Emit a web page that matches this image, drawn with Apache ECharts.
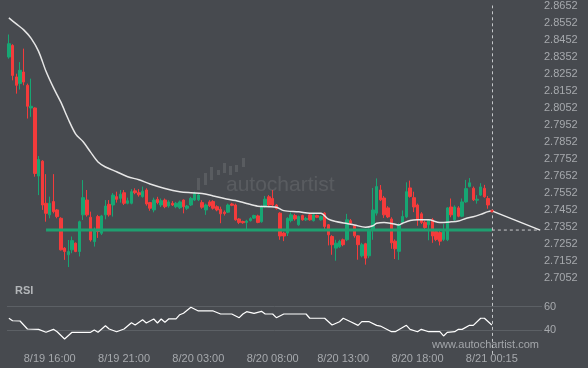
<!DOCTYPE html>
<html><head><meta charset="utf-8">
<script src="https://cdn.jsdelivr.net/npm/echarts@6/dist/echarts.min.js"></script>
<style>html,body{margin:0;padding:0;background:#474a4f}#c{width:588px;height:368px}</style>
</head><body><div id="c"></div>
<script>
// ---- candle data (15-min bars) ----
const candleOpen = [2.8350,2.8418,2.8233,2.8194,2.8262,2.8184,2.8051,2.8051,2.7652,2.7739,
2.7492,2.7424,2.7502,2.7453,2.7404,2.7229,2.7190,2.7219,2.7258,2.7209,
2.7424,2.7511,2.7410,2.7267,2.7414,2.7316,2.7424,2.7486,2.7482,2.7531,
2.7521,2.7554,2.7492,2.7492,2.7565,2.7554,2.7531,2.7570,2.7496,2.7453,
2.7515,2.7482,2.7511,2.7476,2.7492,2.7472,2.7466,2.7511,2.7463,2.7482,
2.7511,2.7512,2.7496,2.7453,2.7500,2.7502,2.7472,2.7457,2.7440,2.7440,
2.7488,2.7482,2.7400,2.7385,2.7380,2.7390,2.7405,2.7418,2.7384,2.7470,
2.7530,2.7520,2.7482,2.7434,2.7317,2.7317,2.7390,2.7420,2.7366,2.7420,
2.7395,2.7424,2.7390,2.7420,2.7395,2.7434,2.7366,2.7297,2.7229,2.7237,
2.7278,2.7278,2.7390,2.7360,2.7301,2.7184,2.7255,2.7184,2.7336,2.7434,
2.7570,2.7523,2.7465,2.7400,2.7270,2.7210,2.7380,2.7412,2.7582,2.7525,
2.7482,2.7430,2.7380,2.7366,2.7395,2.7326,2.7320,2.7280,2.7278,2.7470,
2.7395,2.7465,2.7416,2.7500,2.7590,2.7580,2.7510,2.7540,2.7580,2.7520,
2.7450];
const candleClose = [2.8428,2.8242,2.8184,2.8272,2.8203,2.8061,2.8061,2.7667,2.7749,2.7482,
2.7433,2.7492,2.7443,2.7414,2.7219,2.7209,2.7209,2.7273,2.7209,2.7384,
2.7525,2.7424,2.7277,2.7340,2.7326,2.7418,2.7476,2.7424,2.7540,2.7515,
2.7545,2.7492,2.7507,2.7560,2.7554,2.7542,2.7563,2.7488,2.7463,2.7511,
2.7496,2.7507,2.7472,2.7500,2.7482,2.7492,2.7500,2.7472,2.7476,2.7521,
2.7550,2.7541,2.7469,2.7482,2.7478,2.7463,2.7453,2.7430,2.7432,2.7482,
2.7480,2.7395,2.7380,2.7378,2.7388,2.7402,2.7420,2.7380,2.7472,2.7516,
2.7482,2.7482,2.7462,2.7300,2.7300,2.7404,2.7424,2.7400,2.7414,2.7395,
2.7403,2.7395,2.7424,2.7410,2.7414,2.7356,2.7307,2.7249,2.7258,2.7268,
2.7249,2.7395,2.7375,2.7301,2.7249,2.7249,2.7170,2.7336,2.7453,2.7590,
2.7512,2.7424,2.7412,2.7260,2.7225,2.7366,2.7415,2.7560,2.7532,2.7470,
2.7395,2.7380,2.7350,2.7395,2.7300,2.7280,2.7270,2.7326,2.7465,2.7424,
2.7470,2.7416,2.7500,2.7578,2.7612,2.7512,2.7516,2.7588,2.7530,2.7482,
2.7445];
const candleLow = [2.8340,2.8213,2.8135,2.8159,2.8184,2.7989,2.7999,2.7648,2.7540,2.7453,
2.7384,2.7404,2.7433,2.7404,2.7215,2.7160,2.7118,2.7199,2.7205,2.7180,
2.7394,2.7414,2.7267,2.7238,2.7289,2.7306,2.7398,2.7414,2.7414,2.7496,
2.7496,2.7482,2.7486,2.7486,2.7545,2.7531,2.7525,2.7478,2.7448,2.7439,
2.7486,2.7470,2.7463,2.7466,2.7476,2.7463,2.7458,2.7433,2.7453,2.7476,
2.7505,2.7505,2.7460,2.7424,2.7470,2.7455,2.7445,2.7375,2.7420,2.7435,
2.7475,2.7390,2.7370,2.7372,2.7336,2.7385,2.7400,2.7375,2.7378,2.7465,
2.7475,2.7475,2.7455,2.7278,2.7270,2.7300,2.7380,2.7390,2.7360,2.7390,
2.7388,2.7390,2.7385,2.7405,2.7390,2.7330,2.7245,2.7190,2.7155,2.7230,
2.7240,2.7270,2.7366,2.7290,2.7161,2.7175,2.7132,2.7170,2.7278,2.7420,
2.7505,2.7406,2.7405,2.7225,2.7165,2.7160,2.7370,2.7405,2.7525,2.7440,
2.7360,2.7370,2.7330,2.7275,2.7260,2.7270,2.7245,2.7270,2.7270,2.7410,
2.7390,2.7410,2.7410,2.7495,2.7585,2.7505,2.7490,2.7535,2.7525,2.7460,
2.7443];
const candleHigh = [2.8482,2.8425,2.8252,2.8320,2.8399,2.8194,2.8223,2.8055,2.7769,2.7745,
2.7663,2.7531,2.7663,2.7458,2.7410,2.7235,2.7277,2.7297,2.7262,2.7390,
2.7628,2.7570,2.7443,2.7350,2.7424,2.7424,2.7511,2.7511,2.7552,2.7560,
2.7570,2.7570,2.7525,2.7575,2.7580,2.7575,2.7590,2.7580,2.7500,2.7525,
2.7530,2.7520,2.7520,2.7510,2.7505,2.7500,2.7508,2.7515,2.7482,2.7530,
2.7560,2.7550,2.7510,2.7490,2.7510,2.7510,2.7480,2.7472,2.7450,2.7490,
2.7495,2.7490,2.7405,2.7390,2.7395,2.7410,2.7425,2.7425,2.7480,2.7535,
2.7540,2.7570,2.7488,2.7440,2.7325,2.7410,2.7440,2.7430,2.7420,2.7425,
2.7412,2.7430,2.7430,2.7425,2.7420,2.7440,2.7370,2.7305,2.7278,2.7278,
2.7285,2.7430,2.7400,2.7366,2.7305,2.7260,2.7260,2.7345,2.7582,2.7638,
2.7599,2.7535,2.7475,2.7410,2.7280,2.7375,2.7450,2.7615,2.7625,2.7560,
2.7490,2.7440,2.7390,2.7400,2.7405,2.7335,2.7330,2.7370,2.7470,2.7520,
2.7480,2.7475,2.7520,2.7629,2.7640,2.7590,2.7540,2.7610,2.7600,2.7535,
2.7452];
const futureSlots = 13;

// ---- moving average (read at candle indices) ----
const maIndex = [0,2,4,6,8,10,12,14,16,18,20,22,24,26,29,32,35,38,42,46,49,52,55,58,61,64,67,70,72,74,78,81,84,86,88,91,93,96,98,99,101,103,105,106,108,110,113,116,119,121,123,125,127,129,130];
const maValue = [2.8579,2.8544,2.8509,2.8459,2.8383,2.8266,2.8170,2.8085,2.7985,2.7898,2.7853,2.7792,2.7734,2.7705,2.7677,2.7648,2.7630,2.7605,2.7579,2.7560,2.7554,2.7550,2.7535,2.7520,2.7508,2.7491,2.7475,2.7472,2.7469,2.7449,2.7442,2.7434,2.7433,2.7399,2.7385,2.7373,2.7365,2.7351,2.7360,2.7375,2.7380,2.7374,2.7365,2.7375,2.7391,2.7395,2.7395,2.7379,2.7383,2.7388,2.7403,2.7413,2.7427,2.7443,2.7447];

// ---- RSI ----
const rsiIndex = [0,1,3,5,8,10,12,13,15,17,22,23,24,26,27,29,31,33,34,36,37,39,40,41,42,43,45,46,47,49,51,55,57,60,62,63,64,66,68,69,71,72,74,80,81,85,87,89,90,92,94,95,97,99,100,103,104,107,108,110,111,113,116,117,118,120,121,122,124,125,127,128,130];
const rsiValue = [50.2,48.1,47.9,41.1,40.8,38.3,40.8,38.8,32.6,38.3,38.3,40.3,38.3,43.9,41.1,38.8,41.1,46.4,44.5,49.0,46.2,49.6,46.2,49.6,46.8,49.6,49.6,53.2,54.4,59.5,56.4,56.4,53.8,53.8,50.7,53.8,55.8,54.4,56.1,53.8,53.8,50.7,53.8,53.8,50.2,50.2,44.5,47.3,50.2,47.3,44.2,47.3,47.3,44.2,43.6,38.8,38.8,44.2,40.8,38.8,40.8,38.8,38.8,35.2,38.3,38.8,40.8,40.8,44.2,44.2,50.2,50.2,44.5];

// ---- levels / projection ----
const supportLevel = 2.7335;
const supportStart = 10;
const projectionStart = 2.7447;
const projectionEnd = 2.7335;

// ---- tick labels ----
const priceTicks = [2.7052,2.7152,2.7252,2.7352,2.7452,2.7552,2.7652,2.7752,2.7852,2.7952,2.8052,2.8152,2.8252,2.8352,2.8452,2.8552,2.8652];
const rsiTicks = [40, 60];
const xTickIndex = [11, 31, 51, 71, 90, 110, 130];
const xTickLabels = ['8/19 16:00','8/19 21:00','8/20 03:00','8/20 08:00','8/20 13:00','8/20 18:00','8/21 00:15'];

const n = candleOpen.length;
const total = n + futureSlots;
const last = n - 1;
const cats = Array.from({length: total}, (_, i) => String(i));
const candles = candleOpen.map((o, i) => [o, candleClose[i], candleLow[i], candleHigh[i]]);
const maData = maIndex.map((i, k) => [i, maValue[k]]);
const rsiData = rsiIndex.map((i, k) => [i, rsiValue[k]]);

const BG = '#474a4f', TXT = '#a6a9ad', UP = '#17a673', DOWN = '#f43b3b';
const WM = 'rgba(255,255,255,0.10)';
const chart = echarts.init(document.getElementById('c'), null, {renderer: 'canvas'});
const dashV = {silent: true, symbol: 'none', label: {show: false},
  lineStyle: {color: '#c4c7ca', type: [3, 3], width: 1}, data: [{xAxis: String(last)}]};

chart.setOption({
  backgroundColor: BG,
  animation: false,
  textStyle: {fontFamily: 'Liberation Sans, Arial, sans-serif'},
  grid: [
    {left: 7, width: 535, top: 4.7, height: 273.6},
    {left: 7, width: 535, top: 283.1, height: 70.8}
  ],
  xAxis: [
    {type: 'category', data: cats, gridIndex: 0, boundaryGap: true,
     axisLine: {show: false}, axisTick: {show: false}, axisLabel: {show: false}, splitLine: {show: false}},
    {type: 'category', data: cats, gridIndex: 1, boundaryGap: true,
     axisLine: {show: false}, axisTick: {show: false}, splitLine: {show: false},
     axisLabel: {color: TXT, fontSize: 11, margin: 5, verticalAlign: 'middle',
       interval: (idx) => xTickIndex.includes(idx),
       formatter: (v, idx) => { const k = xTickIndex.indexOf(Number(v)); return k >= 0 ? xTickLabels[k] : ''; }}}
  ],
  yAxis: [
    {type: 'value', gridIndex: 0, position: 'right', min: priceTicks[0], max: priceTicks[priceTicks.length - 1],
     splitLine: {show: false}, axisLine: {show: false}, axisTick: {show: false},
     axisLabel: {customValues: priceTicks, color: TXT, fontSize: 11, margin: 2, formatter: v => v.toFixed(4)}},
    {type: 'value', gridIndex: 1, position: 'right', min: 20, max: 80, interval: 20,
     splitLine: {show: true, showMinLine: false, showMaxLine: false, lineStyle: {color: '#5c6065', width: 1}},
     axisLine: {show: false}, axisTick: {show: false},
     axisLabel: {customValues: rsiTicks, color: TXT, fontSize: 11, margin: 2}}
  ],
  series: [
    {type: 'candlestick', xAxisIndex: 0, yAxisIndex: 0, data: candles, barWidth: 3,
     itemStyle: {color: UP, color0: DOWN, borderColor: UP, borderColor0: DOWN, borderWidth: 1},
     markLine: dashV},
    {type: 'line', xAxisIndex: 0, yAxisIndex: 0, data: [[supportStart, supportLevel], [last, supportLevel]],
     symbol: 'none', lineStyle: {color: '#1f9f70', width: 3}, z: 3},
    {type: 'line', xAxisIndex: 0, yAxisIndex: 0, data: [[last, supportLevel], [total - 1, supportLevel]],
     symbol: 'none', lineStyle: {color: '#c8cacd', width: 1, type: [3, 3]}, z: 3},
    {type: 'line', xAxisIndex: 0, yAxisIndex: 0, data: maData, smooth: 0.3, connectNulls: true,
     symbol: 'none', lineStyle: {color: '#e6e6e6', width: 1.5}, z: 4},
    {type: 'line', xAxisIndex: 0, yAxisIndex: 0, data: [[last, projectionStart], [total - 1, projectionEnd]],
     symbol: ['none', 'arrow'], symbolSize: 7, showSymbol: true,
     lineStyle: {color: '#eeeeee', width: 1.3}, itemStyle: {color: '#eeeeee'}, z: 4,
     markPoint: {silent: true, symbol: 'circle', symbolSize: 3, itemStyle: {color: DOWN}, label: {show: false},
       data: [{coord: [String(last), projectionStart]}]}},
    {type: 'line', xAxisIndex: 1, yAxisIndex: 1, data: rsiData, connectNulls: true,
     symbol: 'none', lineStyle: {color: '#ffffff', width: 1.2}, markLine: dashV}
  ],
  graphic: [
    {type: 'text', left: 15, top: 285, style: {text: 'RSI', fill: '#b3b6b9', font: 'bold 11px Liberation Sans, Arial, sans-serif'}},
    {type: 'text', left: 432, top: 339, style: {text: 'www.autochartist.com', fill: '#a3a6aa', font: '11px Liberation Sans, Arial, sans-serif'}},
    {type: 'text', left: 226, top: 175, style: {text: 'autochartist', fill: WM, font: '21px Liberation Sans, Arial, sans-serif'}},
    {type: 'group', left: 197, top: 158, children: [
      {type: 'rect', shape: {x: 0, y: 21, width: 3, height: 12}, style: {fill: WM}},
      {type: 'rect', shape: {x: 7, y: 16, width: 3, height: 12}, style: {fill: WM}},
      {type: 'rect', shape: {x: 13, y: 10, width: 3, height: 13}, style: {fill: WM}},
      {type: 'rect', shape: {x: 20, y: 13, width: 3, height: 5}, style: {fill: WM}},
      {type: 'rect', shape: {x: 26, y: 6, width: 3, height: 10}, style: {fill: WM}},
      {type: 'rect', shape: {x: 32, y: 9, width: 3, height: 9}, style: {fill: WM}},
      {type: 'rect', shape: {x: 38, y: 8, width: 3, height: 7}, style: {fill: WM}},
      {type: 'rect', shape: {x: 45, y: 1, width: 3, height: 9}, style: {fill: WM}}
    ]}
  ]
});
</script></body></html>
